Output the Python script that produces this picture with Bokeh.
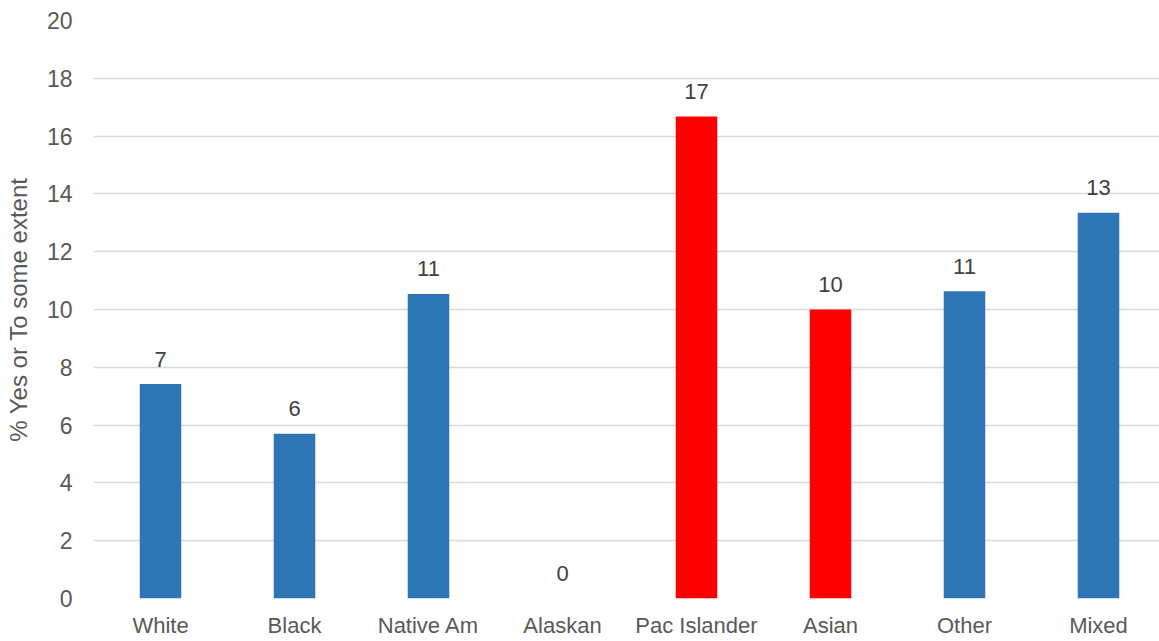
from bokeh.plotting import figure
from bokeh.models import ColumnDataSource, Range1d, FixedTicker
from bokeh.core.properties import value
from bokeh.embed import file_html
from bokeh.resources import INLINE

# Share answering "Yes" or "To some extent", by group
categories = ["White", "Black", "Native Am", "Alaskan", "Pac Islander", "Asian", "Other", "Mixed"]
percent = [7.42, 5.70, 10.54, 0.0, 16.68, 10.0, 10.63, 13.35]
highlight = [False, False, False, False, True, True, False, False]
y_ticks = [0, 2, 4, 6, 8, 10, 12, 14, 16, 18, 20]

BLUE = "#2E75B6"
RED = "#FF0000"
TEXT = "#595959"
GRID = "#D9D9D9"
FONT = "Liberation Sans"

xs = [i + 0.5 for i in range(len(categories))]
colors = [RED if h else BLUE for h in highlight]
labels = [str(int(round(v))) for v in percent]

src = ColumnDataSource(dict(x=xs, top=percent, color=colors, label=labels))

p = figure(width=1159, height=641, output_backend="svg", toolbar_location=None,
           x_range=Range1d(0, 1066 / 134), y_range=Range1d(0, 20),
           min_border_left=93, min_border_right=0, min_border_top=20, min_border_bottom=43)
p.outline_line_color = None
p.background_fill_color = "white"
p.border_fill_color = "white"

p.vbar(x="x", top="top", bottom=0, width=0.31, color="color", line_color=None, source=src)
p.text(x="x", y="top", text="label", source=src, text_align="center",
       text_baseline="alphabetic", y_offset=-25, text_color="#404040",
       text_font=value(FONT), text_font_size="22px")

# x axis: category names under each bar
p.xaxis.ticker = FixedTicker(ticks=xs)
p.xaxis.major_label_overrides = {x: c for x, c in zip(xs, categories)}
p.xaxis.axis_line_color = None
p.xaxis.major_tick_line_color = None
p.xaxis.minor_tick_line_color = None
p.xaxis.major_tick_out = 0
p.xaxis.major_label_standoff = 14
p.xaxis.major_label_text_font = FONT
p.xaxis.major_label_text_font_size = "22px"
p.xaxis.major_label_text_color = TEXT
p.xgrid.grid_line_color = None

# y axis
p.yaxis.ticker = FixedTicker(ticks=y_ticks)
p.yaxis.axis_line_color = None
p.yaxis.major_tick_line_color = None
p.yaxis.minor_tick_line_color = None
p.yaxis.major_tick_out = 0
p.yaxis.major_label_standoff = 21
p.yaxis.major_label_text_font = FONT
p.yaxis.major_label_text_font_size = "23px"
p.yaxis.major_label_text_color = TEXT
p.yaxis.axis_label = "% Yes or To some extent"
p.yaxis.axis_label_text_font = FONT
p.yaxis.axis_label_text_font_size = "24px"
p.yaxis.axis_label_text_font_style = "normal"
p.yaxis.axis_label_text_color = TEXT
p.yaxis.axis_label_standoff = 12
p.ygrid.grid_line_color = GRID
p.ygrid.grid_line_width = 1.5

open("out.html", "w").write(file_html(p, INLINE))
